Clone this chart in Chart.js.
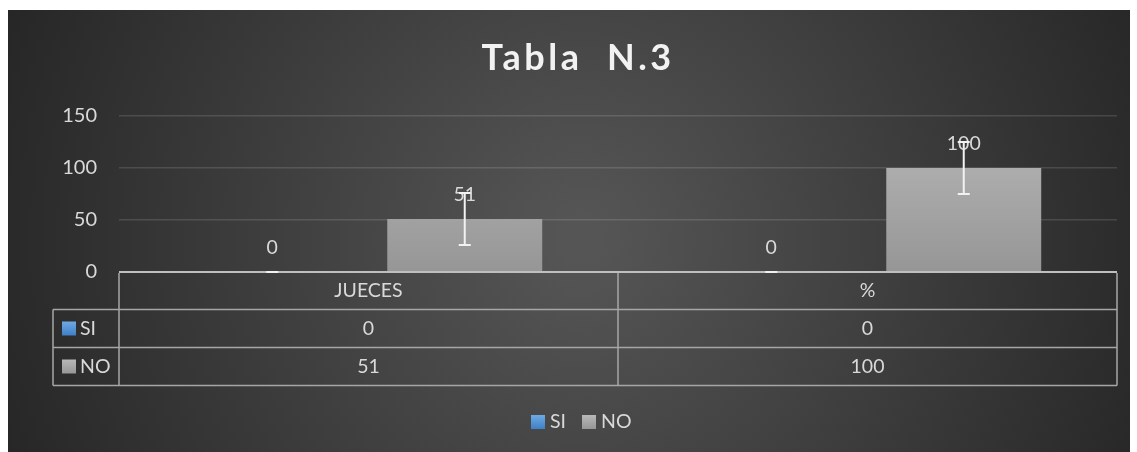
<!DOCTYPE html>
<html lang="es">
<head>
<meta charset="UTF-8">
<title>Tabla N.3</title>
<script src="https://cdn.jsdelivr.net/npm/chart.js"></script>
<style>
  html, body { margin: 0; padding: 0; background: #fff; }
  #wrap { width: 1137px; height: 452px; position: relative; }
</style>
</head>
<body>
<div id="wrap"><canvas id="chart" width="1137" height="452"></canvas></div>
<script>
// data
const categories = ['JUECES', '%'];
const seriesNames = ['SI', 'NO'];
const siValues = [0, 0];
const noValues = [51, 100];
const siErrors = [0, 0];
const noErrors = [25, 25];
const yMax = 150;
const yStep = 50;

const FONT = 'Lato, "Noto Sans", sans-serif';
const TEXT = '#d9d9d9';
const LINE = '#a6a6a6';

function vGrad(ctx, area, top, bottom) {
  if (!area) return top;
  const g = ctx.createLinearGradient(0, area.top, 0, area.bottom);
  g.addColorStop(0, top);
  g.addColorStop(1, bottom);
  return g;
}

function squareGrad(ctx, x, y, s, top, bottom) {
  const g = ctx.createLinearGradient(0, y, 0, y + s);
  g.addColorStop(0, top);
  g.addColorStop(1, bottom);
  ctx.fillStyle = g;
  ctx.fillRect(x, y, s, s);
}

const SI_COL = ['#6eaae3', '#3f7fc6'];
const NO_COL = ['#b8b8b8', '#969696'];

// background + title
const background = {
  id: 'background',
  beforeDraw(chart) {
    const c = chart.ctx;
    c.save();
    c.fillStyle = '#fff';
    c.fillRect(0, 0, chart.width, chart.height);
    const x0 = 8, y0 = 10, x1 = 1130, y1 = 452;
    const g = c.createRadialGradient(580, 240, 20, 580, 240, 620);
    g.addColorStop(0, '#555555');
    g.addColorStop(1, '#262626');
    c.fillStyle = g;
    c.fillRect(x0, y0, x1 - x0, y1 - y0);

    c.fillStyle = '#f2f2f2';
    c.font = 'bold 36px ' + FONT;
    c.textAlign = 'center';
    c.textBaseline = 'middle';
    c.letterSpacing = '3.5px';
    c.fillText('Tabla  N.3', 578, 58);
    c.restore();
  }
};

// labels, error bars, data table and legend
const extras = {
  id: 'extras',
  afterDatasetsDraw(chart) {
    const c = chart.ctx;
    const y = chart.scales.y;
    const x = chart.scales.x;
    const area = chart.chartArea;
    const errs = [siErrors, noErrors];
    c.save();

    const left = area.left, right = area.right, top = area.bottom;
    // axis line
    c.strokeStyle = '#bfbfbf';
    c.lineWidth = 2;
    c.beginPath();
    c.moveTo(left, top); c.lineTo(right, top);
    c.stroke();

    // value labels
    c.font = '19.5px ' + FONT;
    c.fillStyle = TEXT;
    c.textAlign = 'center';
    c.textBaseline = 'middle';
    chart.data.datasets.forEach((ds, di) => {
      chart.getDatasetMeta(di).data.forEach((bar, i) => {
        c.fillText(String(ds.data[i]), bar.x, y.getPixelForValue(ds.data[i]) - 24);
      });
    });

    // error bars
    c.strokeStyle = '#f2f2f2';
    c.lineWidth = 2;
    chart.data.datasets.forEach((ds, di) => {
      chart.getDatasetMeta(di).data.forEach((bar, i) => {
        const v = ds.data[i], e = errs[di][i];
        const t = y.getPixelForValue(v + e);
        const b = y.getPixelForValue(Math.max(v - e, 0));
        c.beginPath();
        c.moveTo(bar.x, t); c.lineTo(bar.x, b);
        c.moveTo(bar.x - 6, t); c.lineTo(bar.x + 6, t);
        c.moveTo(bar.x - 6, b); c.lineTo(bar.x + 6, b);
        c.stroke();
      });
    });

    // data table
    const mid = (x.getPixelForValue(0) + x.getPixelForValue(1)) / 2;
    const rows = [top, top + 37.5, top + 75.5, top + 113.5];
    const keyLeft = 53;
    c.strokeStyle = LINE;
    c.lineWidth = 1.5;
    c.beginPath();
    c.moveTo(keyLeft, rows[1]); c.lineTo(right, rows[1]);
    c.moveTo(keyLeft, rows[2]); c.lineTo(right, rows[2]);
    c.moveTo(keyLeft, rows[3]); c.lineTo(right, rows[3]);
    c.moveTo(left, rows[0] + 1); c.lineTo(left, rows[3]);
    c.moveTo(keyLeft, rows[1]); c.lineTo(keyLeft, rows[3]);
    c.moveTo(mid, rows[0] + 1); c.lineTo(mid, rows[3]);
    c.moveTo(right, rows[0] + 1); c.lineTo(right, rows[3]);
    c.stroke();

    c.font = '19.5px ' + FONT;
    c.fillStyle = TEXT;
    c.textAlign = 'center';
    categories.forEach((cat, i) => {
      const cx = x.getPixelForValue(i);
      c.fillText(cat, cx, (rows[0] + rows[1]) / 2);
      c.fillText(String(siValues[i]), cx, (rows[1] + rows[2]) / 2);
      c.fillText(String(noValues[i]), cx, (rows[2] + rows[3]) / 2);
    });
    c.textAlign = 'left';
    [SI_COL, NO_COL].forEach((col, r) => {
      const cy = (rows[r + 1] + rows[r + 2]) / 2;
      squareGrad(c, 62, cy - 7, 14, col[0], col[1]);
      c.fillStyle = TEXT;
      c.fillText(seriesNames[r], 80, cy);
    });

    // bottom legend
    const ly = 422;
    squareGrad(c, 531, ly - 7, 14, SI_COL[0], SI_COL[1]);
    c.fillStyle = TEXT;
    c.fillText(seriesNames[0], 550, ly);
    squareGrad(c, 582, ly - 7, 14, NO_COL[0], NO_COL[1]);
    c.fillStyle = TEXT;
    c.fillText(seriesNames[1], 601, ly);

    c.restore();
  }
};

new Chart(document.getElementById('chart'), {
  type: 'bar',
  data: {
    labels: categories,
    datasets: [
      {
        label: seriesNames[0],
        data: siValues,
        backgroundColor: ctx => vGrad(ctx.chart.ctx, ctx.chart.chartArea, SI_COL[0], SI_COL[1])
      },
      {
        label: seriesNames[1],
        data: noValues,
        backgroundColor: ctx => vGrad(ctx.chart.ctx, ctx.chart.chartArea, NO_COL[0], NO_COL[1])
      }
    ]
  },
  options: {
    responsive: false,
    animation: false,
    devicePixelRatio: 1,
    categoryPercentage: 0.7715,
    barPercentage: 0.805,
    layout: { padding: { left: 0, right: 20, top: 116, bottom: 180 } },
    plugins: {
      legend: { display: false },
      title: { display: false },
      tooltip: { enabled: false }
    },
    scales: {
      x: { display: false },
      y: {
        min: 0,
        max: yMax,
        ticks: {
          stepSize: yStep,
          color: TEXT,
          font: { family: FONT, size: 20 },
          padding: 22
        },
        grid: { color: 'rgba(255,255,255,0.13)', lineWidth: 1.5, drawTicks: false },
        border: { display: false },
        afterFit(scale) { scale.width = 119; }
      }
    }
  },
  plugins: [background, extras]
});
</script>
</body>
</html>
